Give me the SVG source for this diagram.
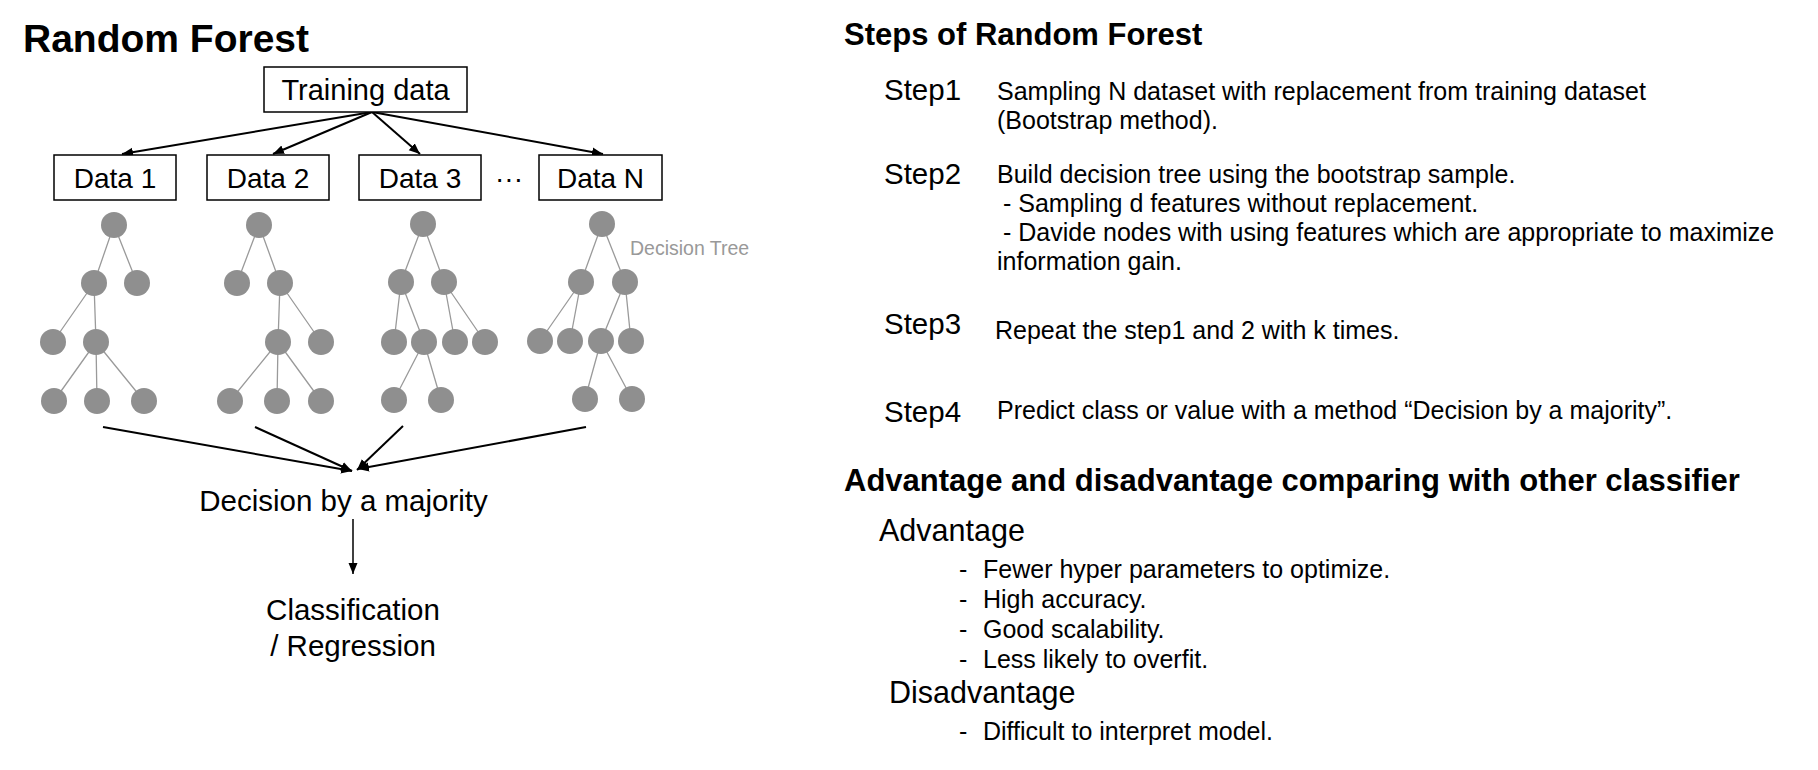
<svg xmlns="http://www.w3.org/2000/svg" width="1818" height="770" viewBox="0 0 1818 770">
  <style>
    text { font-family: "Liberation Sans", Arial, Helvetica, sans-serif; fill: #000; }
    .h1 { font-size: 39px; font-weight: bold; }
    .h2 { font-size: 31px; font-weight: bold; }
    .box { fill: #fff; stroke: #000; stroke-width: 1.5; }
    .boxtxt { font-size: 28px; text-anchor: middle; }
    .lbl { font-size: 29.5px; text-anchor: middle; }
    .step { font-size: 29.5px; }
    .body { font-size: 25px; }
    .sub { font-size: 30.5px; }
    .tnode { fill: #8f8f8f; }
    .tedge { stroke: #9a9a9a; stroke-width: 1.3; fill: none; }
    .arrow { stroke: #000; stroke-width: 2; fill: none; marker-end: url(#ah); }
    .arrow-thin { stroke: #000; stroke-width: 1.5; fill: none; marker-end: url(#ah); }
    .dt { font-size: 19.5px; fill: #999; }
  </style>
  <defs>
    <marker id="ah" markerUnits="userSpaceOnUse" markerWidth="12" markerHeight="10" refX="11" refY="5" orient="auto">
      <path d="M0,0.5 L11,5 L0,9.5 Z" fill="#000"/>
    </marker>
  </defs>
  <rect width="1818" height="770" fill="#fff"/>

  <g id="title"><text class="h1" x="23" y="52">Random Forest</text></g>

  <g id="connectors">
    <line class="arrow" x1="372" y1="112" x2="122" y2="154"/>
    <line class="arrow" x1="372" y1="112" x2="273" y2="154"/>
    <line class="arrow" x1="372" y1="112" x2="420" y2="154"/>
    <line class="arrow" x1="372" y1="112" x2="603" y2="154"/>
    <line class="arrow" x1="103" y1="427" x2="352" y2="471"/>
    <line class="arrow" x1="255" y1="427" x2="352" y2="471"/>
    <line class="arrow" x1="403" y1="426" x2="357" y2="470"/>
    <line class="arrow" x1="586" y1="427" x2="358" y2="469"/>
    <line class="arrow-thin" x1="353" y1="519" x2="353" y2="574"/>
  </g>

  <g id="training-data">
    <rect class="box" x="264" y="67" width="203" height="45"/>
    <text class="boxtxt" x="365.5" y="100" style="font-size:29px">Training data</text>
  </g>
  <g id="data-1">
    <rect class="box" x="54" y="155" width="122" height="45"/>
    <text class="boxtxt" x="115" y="188">Data 1</text>
  </g>
  <g id="data-2">
    <rect class="box" x="207" y="155" width="122" height="45"/>
    <text class="boxtxt" x="268" y="188">Data 2</text>
  </g>
  <g id="data-3">
    <rect class="box" x="359" y="155" width="122" height="45"/>
    <text class="boxtxt" x="420" y="188">Data 3</text>
  </g>
  <g id="ellipsis"><text class="boxtxt" x="509" y="188">···</text></g>
  <g id="data-n">
    <rect class="box" x="539" y="155" width="123" height="45"/>
    <text class="boxtxt" x="600.5" y="188">Data N</text>
  </g>

  <g id="tree-1">
    <path class="tedge" d="M114,225L94,283M114,225L137,283M94,283L53,342M94,283L96,342M96,342L54,401M96,342L97,401M96,342L144,401"/>
    <circle class="tnode" cx="114" cy="225" r="13"/>
    <circle class="tnode" cx="94" cy="283" r="13"/>
    <circle class="tnode" cx="137" cy="283" r="13"/>
    <circle class="tnode" cx="53" cy="342" r="13"/>
    <circle class="tnode" cx="96" cy="342" r="13"/>
    <circle class="tnode" cx="54" cy="401" r="13"/>
    <circle class="tnode" cx="97" cy="401" r="13"/>
    <circle class="tnode" cx="144" cy="401" r="13"/>
  </g>
  <g id="tree-2">
    <path class="tedge" d="M259,225L237,283M259,225L280,283M280,283L278,342M280,283L321,342M278,342L230,401M278,342L277,401M278,342L321,401"/>
    <circle class="tnode" cx="259" cy="225" r="13"/>
    <circle class="tnode" cx="237" cy="283" r="13"/>
    <circle class="tnode" cx="280" cy="283" r="13"/>
    <circle class="tnode" cx="278" cy="342" r="13"/>
    <circle class="tnode" cx="321" cy="342" r="13"/>
    <circle class="tnode" cx="230" cy="401" r="13"/>
    <circle class="tnode" cx="277" cy="401" r="13"/>
    <circle class="tnode" cx="321" cy="401" r="13"/>
  </g>
  <g id="tree-3">
    <path class="tedge" d="M423,224L401,282M423,224L444,282M401,282L394,342M401,282L424,342M444,282L455,342M444,282L485,342M424,342L394,400M424,342L441,400"/>
    <circle class="tnode" cx="423" cy="224" r="13"/>
    <circle class="tnode" cx="401" cy="282" r="13"/>
    <circle class="tnode" cx="444" cy="282" r="13"/>
    <circle class="tnode" cx="394" cy="342" r="13"/>
    <circle class="tnode" cx="424" cy="342" r="13"/>
    <circle class="tnode" cx="455" cy="342" r="13"/>
    <circle class="tnode" cx="485" cy="342" r="13"/>
    <circle class="tnode" cx="394" cy="400" r="13"/>
    <circle class="tnode" cx="441" cy="400" r="13"/>
  </g>
  <g id="tree-4">
    <path class="tedge" d="M602,224L581,282M602,224L625,282M581,282L540,341M581,282L570,341M625,282L601,341M625,282L631,341M601,341L585,399M601,341L632,399"/>
    <circle class="tnode" cx="602" cy="224" r="13"/>
    <circle class="tnode" cx="581" cy="282" r="13"/>
    <circle class="tnode" cx="625" cy="282" r="13"/>
    <circle class="tnode" cx="540" cy="341" r="13"/>
    <circle class="tnode" cx="570" cy="341" r="13"/>
    <circle class="tnode" cx="601" cy="341" r="13"/>
    <circle class="tnode" cx="631" cy="341" r="13"/>
    <circle class="tnode" cx="585" cy="399" r="13"/>
    <circle class="tnode" cx="632" cy="399" r="13"/>
  </g>
  <g id="decision-tree-label"><text class="dt" x="630" y="255">Decision Tree</text></g>

  <g id="majority"><text class="lbl" x="343.5" y="511">Decision by a majority</text></g>
  <g id="result">
    <text class="lbl" x="353" y="620">Classification</text>
    <text class="lbl" x="353" y="656">/ Regression</text>
  </g>

  <g id="steps">
    <text class="h2" x="844" y="45">Steps of Random Forest</text>
    <text class="step" x="884" y="100">Step1</text>
    <text class="body" x="997" y="100">Sampling N dataset with replacement from training dataset</text>
    <text class="body" x="997" y="129">(Bootstrap method).</text>
    <text class="step" x="884" y="184">Step2</text>
    <text class="body" x="997" y="183">Build decision tree using the bootstrap sample.</text>
    <text class="body" x="1003" y="212">- Sampling d features without replacement.</text>
    <text class="body" x="1003" y="241">- Davide nodes with using features which are appropriate to maximize</text>
    <text class="body" x="997" y="270">information gain.</text>
    <text class="step" x="884" y="334">Step3</text>
    <text class="body" x="995" y="339">Repeat the step1 and 2 with k times.</text>
    <text class="step" x="884" y="422">Step4</text>
    <text class="body" x="997" y="419">Predict class or value with a method “Decision by a majority”.</text>
  </g>

  <g id="pros-cons">
    <text class="h2" x="844" y="491">Advantage and disadvantage comparing with other classifier</text>
    <text class="sub" x="879" y="541">Advantage</text>
    <text class="body" y="578"><tspan x="959">-</tspan><tspan x="983">Fewer hyper parameters to optimize.</tspan></text>
    <text class="body" y="608"><tspan x="959">-</tspan><tspan x="983">High accuracy.</tspan></text>
    <text class="body" y="638"><tspan x="959">-</tspan><tspan x="983">Good scalability.</tspan></text>
    <text class="body" y="668"><tspan x="959">-</tspan><tspan x="983">Less likely to overfit.</tspan></text>
    <text class="sub" x="889" y="703">Disadvantage</text>
    <text class="body" y="740"><tspan x="959">-</tspan><tspan x="983">Difficult to interpret model.</tspan></text>
  </g>
</svg>
